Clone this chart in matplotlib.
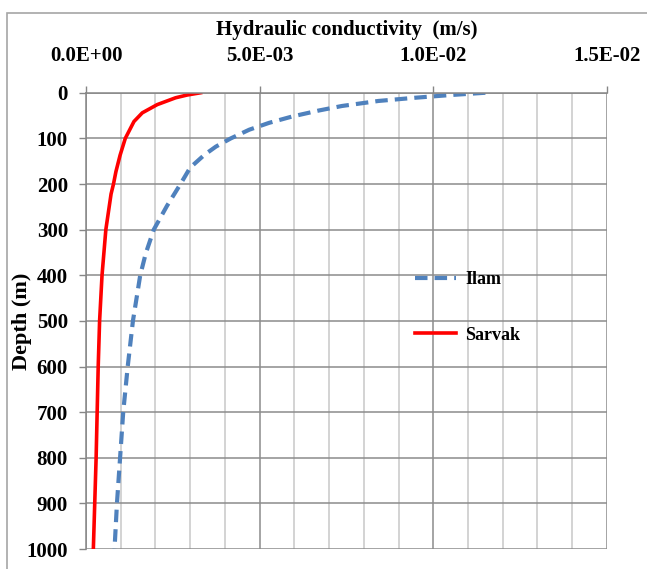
import numpy as np
import matplotlib
matplotlib.use("Agg")
import matplotlib.pyplot as plt
from matplotlib.patches import Rectangle
from matplotlib.ticker import MultipleLocator

# values (depth in m, K in m/s)
depth_ilam = [0, 5, 11, 18, 29, 39, 52, 66, 81, 100, 118, 136, 164, 200, 248, 300, 352,
              400, 500, 600, 700, 800, 900, 1000]
k_ilam = [11.5e-3, 10.5e-3, 9.47e-3, 8.42e-3, 7.37e-3, 6.70e-3, 5.94e-3, 5.27e-3, 4.70e-3,
          4.17e-3, 3.74e-3, 3.41e-3, 3.0e-3, 2.72e-3, 2.33e-3, 1.95e-3, 1.72e-3,
          1.56e-3, 1.35e-3, 1.20e-3, 1.07e-3, 0.98e-3, 0.89e-3, 0.82e-3]

depth_sarvak = [0, 5, 11, 26, 44, 63, 100, 137, 173, 200, 222, 300, 400, 500, 600, 700, 800, 900, 1000]
k_sarvak = [3.30e-3, 2.91e-3, 2.58e-3, 2.05e-3, 1.62e-3, 1.38e-3, 1.13e-3, 0.98e-3, 0.86e-3,
            0.79e-3, 0.72e-3, 0.57e-3, 0.46e-3, 0.39e-3, 0.35e-3, 0.32e-3, 0.29e-3, 0.25e-3, 0.21e-3]

x_ticks = [0.0, 5e-3, 1e-2, 1.5e-2]
x_labels = ["0.0E+00", "5.0E-03", "1.0E-02", "1.5E-02"]
y_ticks = list(range(0, 1001, 100))

plt.rcParams["font.family"] = ["Liberation Serif", "DejaVu Serif"]
plt.rcParams["font.weight"] = "bold"

fig = plt.figure(figsize=(6.47, 5.69), dpi=100)
ax = fig.add_axes([0.133, 0.035, 0.805, 0.802])

# outer chart frame
fig.patches.append(Rectangle((7 / 647, -0.01), 1.0, 1 - 13 / 569 + 0.01, transform=fig.transFigure,
                             fill=False, edgecolor="#a6a6a6", lw=1.2))

ax.plot(k_ilam, depth_ilam, color="#4f81bd", lw=3.0, linestyle=(0, (3.0, 1.7)), label="Ilam")
ax.plot(k_sarvak, depth_sarvak, color="#ff0000", lw=2.6, label="Sarvak")

ax.set_xlim(0, 1.5e-2)
ax.set_ylim(1000, 0)
ax.xaxis.set_ticks_position("top")
ax.xaxis.set_label_position("top")
ax.set_xticks(x_ticks)
ax.set_xticklabels(x_labels)
ax.xaxis.set_minor_locator(MultipleLocator(1e-3))
ax.set_yticks(y_ticks)

ax.tick_params(axis="x", which="major", direction="out", length=5, width=1, color="#868686",
               labelsize=15, pad=14)
ax.tick_params(axis="x", which="minor", length=0)
ax.tick_params(axis="y", direction="out", length=5, width=1, color="#868686", labelsize=15, pad=8)

ax.grid(True, which="minor", axis="x", color="#c8c8c8", lw=1.1)
ax.grid(True, which="major", axis="x", color="#8c8c8c", lw=1.1)
ax.grid(True, which="major", axis="y", color="#8c8c8c", lw=1.1)
ax.set_axisbelow(True)

for s in ["bottom", "right"]:
    ax.spines[s].set_visible(False)
ax.spines["left"].set_color("#868686")
ax.spines["top"].set_color("#868686")
ax.spines["left"].set_linewidth(1.1)
ax.spines["top"].set_linewidth(1.1)

ax.set_xlabel("Hydraulic conductivity  (m/s)", fontsize=15, fontweight="bold", labelpad=8)
ax.set_ylabel("Depth (m)", fontsize=16, fontweight="bold")
ax.yaxis.set_label_coords(-0.103, 0.5)

ax.legend(loc="upper left", bbox_to_anchor=(0.6, 0.645), frameon=False,
          handlelength=2.3, handletextpad=0.5, labelspacing=2.15, prop={"weight": "bold", "size": 13})

fig.savefig("out.png", dpi=100)
